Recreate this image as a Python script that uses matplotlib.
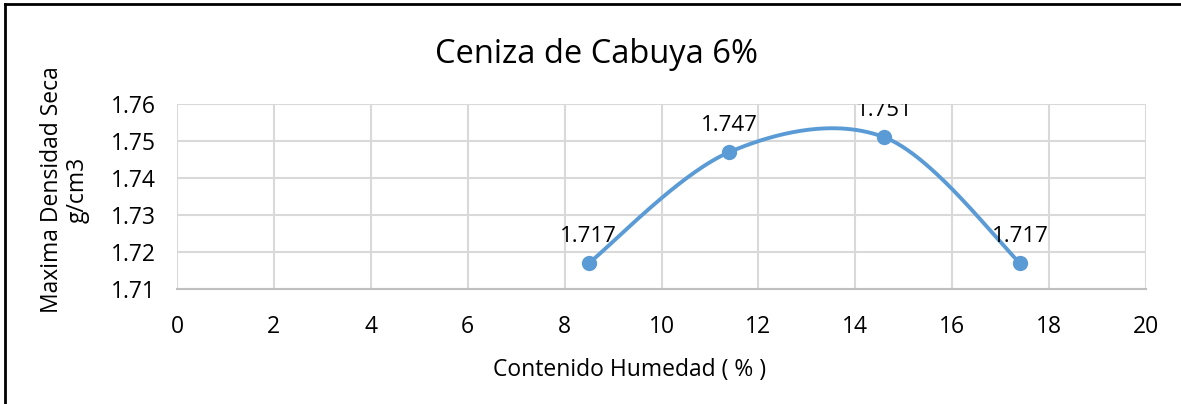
import numpy as np
import matplotlib
matplotlib.use("Agg")
import matplotlib.pyplot as plt
from matplotlib.lines import Line2D

# data
humedad = [8.5, 11.4, 14.6, 17.4]
densidad = [1.717, 1.747, 1.751, 1.717]
etiquetas = ["1.717", "1.747", "1.751", "1.717"]
x_ticks = [0, 2, 4, 6, 8, 10, 12, 14, 16, 18, 20]
y_ticks = [1.71, 1.72, 1.73, 1.74, 1.75, 1.76]

color = "#5b9bd5"
plt.rcParams["font.family"] = ["Open Sans", "DejaVu Sans"]


def excel_smooth(x, y, n=60):
    # Catmull-Rom style bezier, like Excel "smoothed line"
    x = np.asarray(x, float)
    y = np.asarray(y, float)
    px = np.concatenate([[x[0]], x, [x[-1]]])
    py = np.concatenate([[y[0]], y, [y[-1]]])
    xs, ys = [], []
    t = np.linspace(0, 1, n)
    for i in range(1, len(px) - 2):
        p0 = np.array([px[i], py[i]])
        p3 = np.array([px[i + 1], py[i + 1]])
        c1 = p0 + (np.array([px[i + 1], py[i + 1]]) - np.array([px[i - 1], py[i - 1]])) / 6
        c2 = p3 - (np.array([px[i + 2], py[i + 2]]) - np.array([px[i], py[i]])) / 6
        b = ((1 - t) ** 3)[:, None] * p0 + (3 * (1 - t) ** 2 * t)[:, None] * c1 \
            + (3 * (1 - t) * t ** 2)[:, None] * c2 + (t ** 3)[:, None] * p3
        xs.extend(b[:, 0])
        ys.extend(b[:, 1])
    return np.array(xs), np.array(ys)


fig = plt.figure(figsize=(11.81, 4.04), dpi=100)
ax = fig.add_axes([0.1499, 0.2847, 0.8205, 0.4579])

sx, sy = excel_smooth(humedad, densidad)
ax.plot(sx, sy, color=color, lw=2.8, solid_capstyle="round", zorder=3)
ax.plot(humedad, densidad, "o", color=color, ms=10, zorder=4)

for xv, yv, lab in zip(humedad, densidad, etiquetas):
    ax.annotate(lab, (xv, yv), xytext=(0, 15), textcoords="offset points",
                ha="center", va="baseline", fontsize=16, color="#000000",
                annotation_clip=False, clip_on=True, zorder=5)

ax.set_xlim(0, 20)
ax.set_ylim(1.71, 1.76)
ax.set_xticks(x_ticks)
ax.set_yticks(y_ticks)
ax.set_xticklabels([str(v) for v in x_ticks])
ax.set_yticklabels(["%.2f" % v for v in y_ticks])
ax.grid(True, color="#d9d9d9", lw=1.5)
ax.set_axisbelow(True)
for s in ["top", "right", "left"]:
    ax.spines[s].set_visible(False)
ax.spines["bottom"].set_color("#bfbfbf")
ax.spines["bottom"].set_linewidth(1.5)
ax.tick_params(length=0, labelsize=16.5)
ax.tick_params(axis="y", pad=15)
ax.tick_params(axis="x", pad=18.5)

fig.text(0.505, 0.865, "Ceniza de Cabuya 6%", ha="center", va="center", fontsize=23.5)
fig.text(0.533, 0.083, "Contenido Humedad ( % )", ha="center", va="center", fontsize=16.5)
fig.text(0.055, 0.53, "Maxima Densidad Seca\ng/cm3", ha="center", va="center",
         rotation=90, fontsize=16.5, linespacing=1.1, multialignment="center")

# frame of the chart (only left/top edges are inside the picture)
fig.add_artist(Line2D([0.0042, 0.0042], [0, 0.99], color="black", lw=2,
                      transform=fig.transFigure))
fig.add_artist(Line2D([0.0042, 1.0], [0.99, 0.99], color="black", lw=2,
                      transform=fig.transFigure))

fig.savefig("out.png", dpi=100)
